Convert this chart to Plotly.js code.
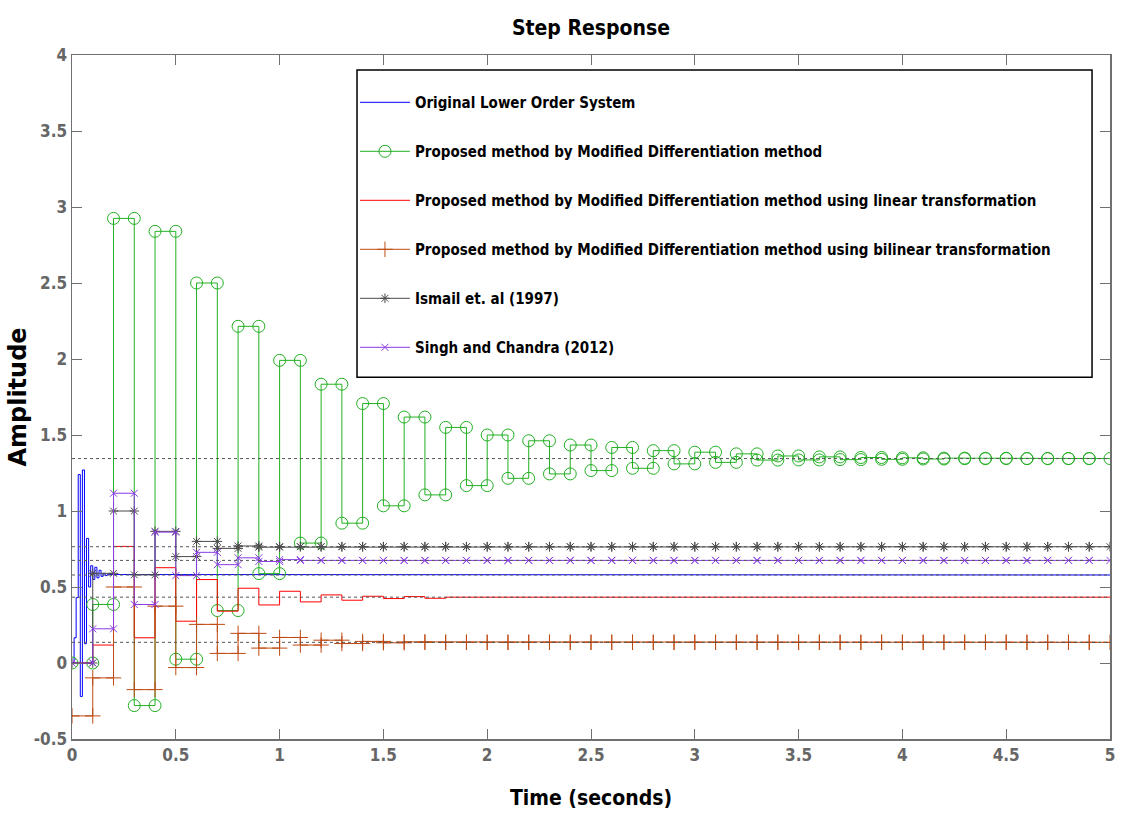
<!DOCTYPE html>
<html><head><meta charset="utf-8">
<script src="https://cdn.plot.ly/plotly-3.0.1.min.js"></script>
<style>html,body{margin:0;padding:0;background:#fff;} #chart{width:1123px;height:814px;}</style>
</head><body><div id="chart"></div>
<script>
// ---- data ----
const sampleTime = 0.1;      // s, reduced-order discrete models
const originalSampleTime = 0.01;
const endTime = 5;

const seriesNames = [
  'Original Lower Order System',
  'Proposed method by Modified Differentiation method',
  'Proposed method by Modified Differentiation method using linear transformation',
  'Proposed method by Modified Differentiation method using bilinear transformation',
  'Ismail et. al (1997)',
  'Singh and Chandra (2012)'
];

const originalVals = [0, 0.166, 0.43, 1.24, -0.22, 1.27, 0.127, 0.82, 0.50, 0.64,
  0.55, 0.63, 0.56, 0.61, 0.57, 0.59, 0.575, 0.582, 0.578, 0.579];

const modDiffVals = [0, 0.385, 2.925, -0.28, 2.84, 0.025, 2.50, 0.345, 2.215, 0.588,
  1.991, 0.789, 1.834, 0.92, 1.707, 1.034, 1.618, 1.106, 1.550, 1.167,
  1.500, 1.215, 1.462, 1.244, 1.434, 1.266, 1.418, 1.281, 1.397, 1.31,
  1.387, 1.32, 1.376, 1.335, 1.362, 1.336, 1.356, 1.338, 1.352, 1.340,
  1.350, 1.342, 1.348, 1.344, 1.347, 1.345, 1.345, 1.345, 1.345, 1.345];

const linearVals = [0, 0.118, 0.767, 0.166, 0.627, 0.275, 0.549, 0.341, 0.492, 0.382,
  0.472, 0.402, 0.448, 0.413, 0.439, 0.424, 0.437, 0.426, 0.433, 0.433,
  0.433, 0.433, 0.433, 0.433, 0.433, 0.433, 0.433, 0.433, 0.433, 0.433,
  0.433, 0.433, 0.433, 0.433, 0.433, 0.433, 0.433, 0.433, 0.433, 0.433,
  0.433, 0.433, 0.433, 0.433, 0.433, 0.433, 0.433, 0.433, 0.433, 0.433];

const bilinearVals = [-0.348, -0.098, 0.50, -0.175, 0.374, -0.03, 0.254, 0.063, 0.195, 0.098,
  0.168, 0.118, 0.150, 0.128, 0.142, 0.133, 0.139, 0.136, 0.136, 0.136,
  0.136, 0.136, 0.136, 0.136, 0.136, 0.136, 0.136, 0.136, 0.136, 0.136,
  0.136, 0.136, 0.136, 0.136, 0.136, 0.136, 0.136, 0.136, 0.136, 0.136,
  0.136, 0.136, 0.136, 0.136, 0.136, 0.136, 0.136, 0.136, 0.136, 0.136];

const ismailVals = [0, 0.59, 1.0, 0.58, 0.866, 0.70, 0.80, 0.754, 0.77, 0.762,
  0.766, 0.765, 0.765, 0.765, 0.765, 0.765, 0.765, 0.765, 0.765, 0.765,
  0.765, 0.765, 0.765, 0.765, 0.765, 0.765, 0.765, 0.765, 0.765, 0.765,
  0.765, 0.765, 0.765, 0.765, 0.765, 0.765, 0.765, 0.765, 0.765, 0.765,
  0.765, 0.765, 0.765, 0.765, 0.765, 0.765, 0.765, 0.765, 0.765, 0.765];

const singhVals = [0, 0.225, 1.117, 0.385, 0.861, 0.575, 0.728, 0.647, 0.692, 0.668,
  0.680, 0.675, 0.675, 0.675, 0.675, 0.675, 0.675, 0.675, 0.675, 0.675,
  0.675, 0.675, 0.675, 0.675, 0.675, 0.675, 0.675, 0.675, 0.675, 0.675,
  0.675, 0.675, 0.675, 0.675, 0.675, 0.675, 0.675, 0.675, 0.675, 0.675,
  0.675, 0.675, 0.675, 0.675, 0.675, 0.675, 0.675, 0.675, 0.675, 0.675];

const xTicks = [0, 0.5, 1, 1.5, 2, 2.5, 3, 3.5, 4, 4.5, 5];
const xTickText = ['0', '0.5', '1', '1.5', '2', '2.5', '3', '3.5', '4', '4.5', '5'];
const yTicks = [-0.5, 0, 0.5, 1, 1.5, 2, 2.5, 3, 3.5, 4];
const yTickText = ['-0.5', '0', '0.5', '1', '1.5', '2', '2.5', '3', '3.5', '4'];

// ---- helpers ----
function stairs(vals, ts) {
  const xs = [], ys = [];
  for (let k = 0; k < vals.length; k++) {
    const t0 = Math.round(k * ts * 10000) / 10000;
    const t1 = (k === vals.length - 1) ? endTime : Math.round((k + 1) * ts * 10000) / 10000;
    xs.push(t0, t1);
    ys.push(vals[k], vals[k]);
  }
  return {x: xs, y: ys};
}

const narrow = "'Liberation Sans Narrow', 'Arial Narrow', 'DejaVu Sans Condensed', sans-serif";

const styles = [
  {vals: originalVals, ts: originalSampleTime, color: '#0000ff', mode: 'lines', marker: {}},
  {vals: modDiffVals, ts: sampleTime, color: '#22b022', mode: 'lines+markers', marker: {symbol: 'circle-open', size: 12, line: {width: 1}}},
  {vals: linearVals, ts: sampleTime, color: '#ff0000', mode: 'lines', marker: {}},
  {vals: bilinearVals, ts: sampleTime, color: '#bf4a12', mode: 'lines+markers', marker: {symbol: 'cross-thin-open', size: 11, line: {width: 1}}},
  {vals: ismailVals, ts: sampleTime, color: '#4a4a4a', mode: 'lines+markers', marker: {symbol: 'asterisk-open', size: 8, line: {width: 1}}},
  {vals: singhVals, ts: sampleTime, color: '#8a3be6', mode: 'lines+markers', marker: {symbol: 'x-thin-open', size: 7, line: {width: 1}}}
];

const traces = styles.map((s, i) => {
  const st = stairs(s.vals, s.ts);
  const m = Object.assign({color: s.color}, s.marker);
  if (m.line) m.line = Object.assign({color: s.color}, m.line);
  return {
    type: 'scatter', x: st.x, y: st.y, mode: s.mode, name: seriesNames[i],
    legendgroup: 'g' + i,
    line: {color: s.color, width: 1}, marker: m, hoverinfo: 'skip'
  };
});

// steady-state dotted lines from final values
const shapes = styles.map(s => ({
  type: 'line', xref: 'x', yref: 'y', x0: 0, x1: endTime,
  y0: s.vals[s.vals.length - 1], y1: s.vals[s.vals.length - 1],
  line: {color: '#555555', width: 1, dash: 'dot'}, layer: 'above'
}));
// legend box
shapes.push({type: 'rect', xref: 'paper', yref: 'paper', x0: 0.2746, x1: 0.9827, y0: 0.529, y1: 0.978,
  line: {color: '#000', width: 1.5}, fillcolor: '#ffffff', layer: 'above'});

const axisCommon = {
  showgrid: false, zeroline: false, showline: true, linecolor: '#707070', linewidth: 1.5,
  mirror: 'ticks', ticks: 'inside', ticklen: 10, tickcolor: '#707070', tickwidth: 1,
  tickfont: {family: narrow, size: 17, color: '#666666', weight: 'bold'},
  automargin: false
};

const layout = {
  width: 1123, height: 814,
  paper_bgcolor: '#ffffff', plot_bgcolor: '#ffffff',
  margin: {l: 72, r: 13, t: 55, b: 75, autoexpand: false},
  title: {text: 'Step Response', font: {family: narrow, size: 21, color: '#000', weight: 'bold'},
    x: 0.5, xref: 'paper', y: 1 - 28 / 814, yref: 'container', yanchor: 'middle'},
  xaxis: Object.assign({}, axisCommon, {
    range: [0, 5], tickvals: xTicks, ticktext: xTickText,
    title: {text: 'Time (seconds)', font: {family: narrow, size: 21, color: '#000', weight: 'bold'}, standoff: 26}
  }),
  yaxis: Object.assign({}, axisCommon, {
    range: [-0.5, 4], tickvals: yTicks, ticktext: yTickText,
    title: {text: 'Amplitude', font: {family: "'DejaVu Sans', Verdana, sans-serif", size: 24, color: '#000', weight: 'bold'}, standoff: 0}
  }),
  showlegend: true,
  legend: {
    x: 0.2726, y: 0.9546, xanchor: 'left', yanchor: 'top',
    bgcolor: 'rgba(0,0,0,0)', borderwidth: 0, itemwidth: 50,
    tracegroupgap: 26.5,
    font: {family: narrow, size: 15, color: '#000', weight: 'bold'}
  },
  shapes: shapes
};

Plotly.newPlot('chart', traces, layout, {displayModeBar: false, staticPlot: true});
</script></body></html>
